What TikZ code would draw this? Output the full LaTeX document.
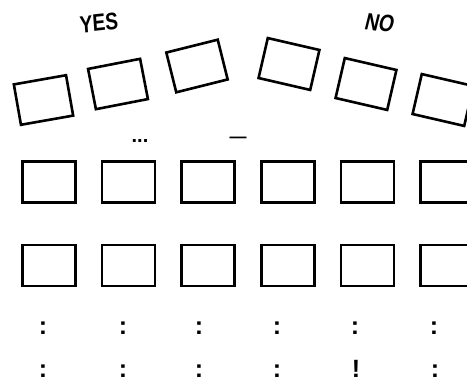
\documentclass[tikz,border=0pt]{standalone}
\usepackage{fontspec}
\setsansfont{Liberation Sans}
\usetikzlibrary{positioning}

\begin{document}
\begin{tikzpicture}[
    x=1pt, y=-1pt,
    node distance=24pt,
    box/.style={
        rectangle,
        draw,
        line width=2.6pt,
        minimum width=53pt,
        minimum height=41pt,
        inner sep=0pt
    },
    answer/.style={font=\sffamily\bfseries\fontsize{24}{24}\selectfont, xscale=0.8},
    dots/.style={font=\sffamily\bfseries\fontsize{25}{25}\selectfont, inner sep=0pt, anchor=base}
]
\useasboundingbox (0,0) rectangle (467,381);

% tilted row
\node[box, rotate=10] (yes1) at (43.5,100) {};
\node[box, rotate=11] (yes2) at (118,84) {};
\node[box, rotate=14] (yes3) at (197,66) {};
\node[box, rotate=-13] (no1) at (289,64) {};
\node[box, rotate=-13] (no2) at (366,84) {};
\node[box, rotate=-13] (no3) at (443,100) {};

\node[answer, rotate=5] (yes) at (99,23) {YES};
\node[answer, rotate=-6, xslant=0.2] (no) at (380,23) {NO};

% small marks
\node[font=\sffamily\bfseries\fontsize{20}{20}\selectfont, anchor=base, inner sep=0pt] (mark1) at (140,142) {...};
\node[font=\sffamily\bfseries\fontsize{17}{17}\selectfont, anchor=base, inner sep=0pt] (mark2) at (238,142) {---};

% middle row
\node[box] (m1) at (49,182) {};
\node[box, right=of m1] (m2) {};
\node[box, right=of m2] (m3) {};
\node[box, right=of m3] (m4) {};
\node[box, right=of m4] (m5) {};
\node[box, right=of m5] (m6) {};

% bottom row
\node[box, below=40pt of m1] (b1) {};
\node[box, right=of b1] (b2) {};
\node[box, right=of b2] (b3) {};
\node[box, right=of b3] (b4) {};
\node[box, right=of b4] (b5) {};
\node[box, right=of b5] (b6) {};

% colons
\node[dots] (c1) at (43,334) {:};
\node[dots] (c2) at (123,334) {:};
\node[dots] (c3) at (199,334) {:};
\node[dots] (c4) at (277,334) {:};
\node[dots] (c5) at (355,334) {:};
\node[dots] (c6) at (434,334) {:};

\node[dots] (d1) at (43,377) {:};
\node[dots] (d2) at (123,377) {:};
\node[dots] (d3) at (199,377) {:};
\node[dots] (d4) at (277,377) {:};
\node[dots] (d5) at (356,377) {!};
\node[dots] (d6) at (435,377) {:};

\end{tikzpicture}
\end{document}
